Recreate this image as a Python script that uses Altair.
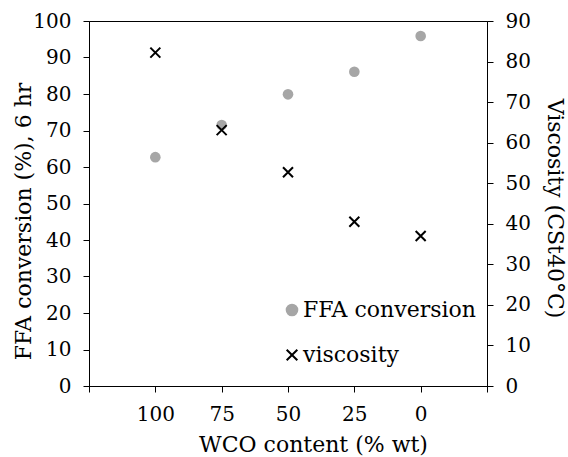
import altair as alt
import pandas as pd

wco = [100, 75, 50, 25, 0]
ffa = [62.7, 71.5, 79.9, 86.1, 95.9]
visc = [82.2, 63.1, 52.7, 40.5, 37.0]
series = ["FFA conversion", "viscosity"]
colors = ["#a6a6a6", "#000000"]
shapes = ["circle", "M-1,-1L1,1M1,-1L-1,1"]
x_ticks = [125, 100, 75, 50, 25, 0, -25]

df = pd.DataFrame({"wco": wco, "ffa": ffa, "visc": visc})

FONT = "DejaVu Serif"

x_enc = alt.X(
    "wco:Q",
    scale=alt.Scale(domain=[-25, 125], reverse=True, nice=False, zero=False),
    axis=alt.Axis(
        values=x_ticks,
        labelExpr="datum.value > 100 || datum.value < 0 ? '' : datum.label",
        title="WCO content (% wt)",
        titleX=224, titleY=58, titleBaseline="middle",
    ),
)

color = alt.Color(
    "series:N",
    scale=alt.Scale(domain=series, range=colors),
    legend=alt.Legend(
        orient="none", legendX=192, legendY=278, title=None,
        labelFontSize=22, labelFont=FONT, labelColor="black", labelLimit=400,
        symbolSize=113, symbolStrokeWidth=2, rowPadding=23, labelOffset=0,
    ),
)
shape = alt.Shape("series:N", scale=alt.Scale(domain=series, range=shapes))

ffa_layer = (
    alt.Chart(df)
    .transform_calculate(series="'FFA conversion'")
    .mark_point(filled=True, size=113, opacity=1)
    .encode(
        x=x_enc,
        y=alt.Y(
            "ffa:Q",
            scale=alt.Scale(domain=[0, 100], nice=False),
            axis=alt.Axis(
                values=list(range(0, 101, 10)), orient="left",
                title="FFA conversion (%), 6 hr",
                titleX=-66, titleY=200, titleBaseline="middle",
            ),
        ),
        color=color,
        shape=shape,
    )
)

visc_layer = (
    alt.Chart(df)
    .transform_calculate(series="'viscosity'")
    .mark_point(filled=False, size=100, strokeWidth=2, opacity=1)
    .encode(
        x=x_enc,
        y=alt.Y(
            "visc:Q",
            scale=alt.Scale(domain=[0, 90], nice=False),
            axis=alt.Axis(
                values=list(range(0, 91, 10)), orient="right",
                title="Viscosity (CSt40°C)",
                titleX=67, titleY=187, titleBaseline="middle",
            ),
        ),
        color=color,
        shape=shape,
    )
)

chart = (
    alt.layer(ffa_layer, visc_layer)
    .resolve_scale(y="independent")
    .properties(
        width=398, height=365,
        autosize=alt.AutoSizeParams(type="none"),
        padding={"left": 89, "top": 21, "right": 81, "bottom": 71},
        background="white",
    )
    .configure_view(stroke="black", strokeWidth=1)
    .configure_axis(
        grid=False,
        domainColor="black", domainWidth=1,
        tickColor="black", tickSize=6, tickWidth=1,
        labelColor="black", labelFont=FONT, labelFontSize=20,
        labelPadding=12,
        titleColor="black", titleFont=FONT, titleFontSize=22, titleFontWeight="normal",
    )
)

chart.save("out.html", embed_options={"renderer": "svg", "actions": False})
